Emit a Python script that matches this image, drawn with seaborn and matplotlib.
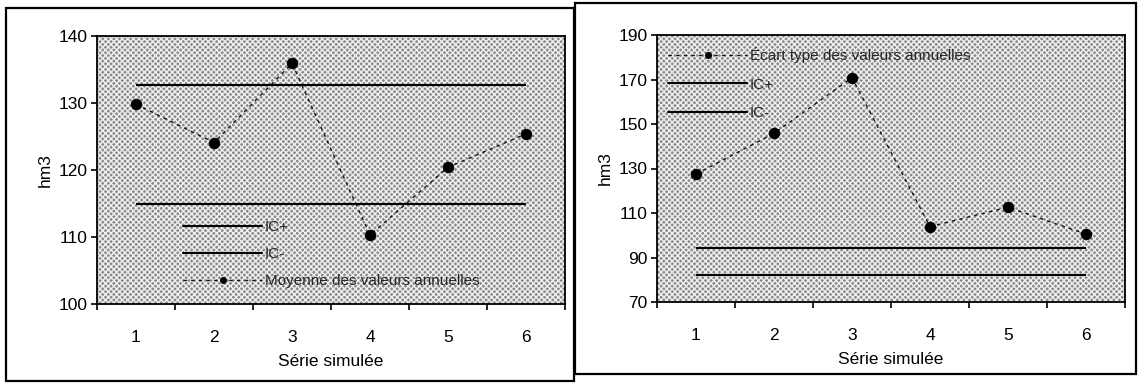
import matplotlib
matplotlib.use("Agg")
import matplotlib.pyplot as plt
import seaborn as sns
import pandas as pd
from matplotlib.patches import Rectangle
from matplotlib.lines import Line2D

# ---- data ----
series = [1, 2, 3, 4, 5, 6]
moyenne = [129.8, 124.1, 135.9, 110.3, 120.4, 125.4]
moy_ic_plus = 132.7
moy_ic_minus = 114.9

ecart = [127.5, 145.8, 170.8, 103.9, 112.6, 100.5]
ect_ic_plus = 94.1
ect_ic_minus = 82.0

xlabel = "Série simulée"
ylabel = "hm3"
lab_mean = "Moyenne des valeurs annuelles"
lab_std = "Écart type des valeurs annuelles"

sns.set_theme(style="white")
plt.rcParams["font.family"] = ["Liberation Sans", "DejaVu Sans"]

W, H = 1138, 385
fig = plt.figure(figsize=(W / 100, H / 100), dpi=100)


def px_axes(x0, y0, x1, y1):
    return fig.add_axes([x0 / W, 1 - y1 / H, (x1 - x0) / W, (y1 - y0) / H])


# outer boxes
for (x0, y0, x1, y1) in [(6, 8, 574, 381), (575, 3, 1136, 374)]:
    fig.patches.append(Rectangle((x0 / W, 1 - y1 / H), (x1 - x0) / W, (y1 - y0) / H,
                                 transform=fig.transFigure, fill=False,
                                 edgecolor="black", lw=1.6))

axL = px_axes(97, 36, 565, 304)
axR = px_axes(657, 35, 1125, 302)

TICK_FS = 12.5
LEG_FS = 11

line_style = dict(color="#111111", lw=1.0, linestyle=(0, (2.5, 3)),
                  marker="o", markersize=7.5, markeredgecolor="black",
                  markerfacecolor="black")


def style_axes(ax, ylim, yticks):
    ax.set_facecolor("#8a8a8a")
    ax.add_patch(Rectangle((0, 0), 1, 1, transform=ax.transAxes, facecolor="none",
                           edgecolor="#f0f0f0", hatch="xxxxxx", lw=0, zorder=0.5))
    ax.set_xlim(0.5, 6.5)
    ax.set_ylim(*ylim)
    ax.set_yticks(yticks)
    ax.set_xticks(series)
    ax.set_xticklabels([str(s) for s in series])
    ax.set_xticks([s - 0.5 for s in series] + [6.5], minor=True)
    ax.tick_params(axis="x", which="major", length=0, pad=19, labelsize=TICK_FS,
                   colors="black")
    ax.tick_params(axis="x", which="minor", length=4, width=1.2, direction="out",
                   bottom=True, color="black")
    ax.tick_params(axis="y", length=4, width=1.2, direction="out", left=True,
                   labelsize=TICK_FS, pad=3, colors="black")
    for s in ax.spines.values():
        s.set_visible(True)
        s.set_color("black")
        s.set_linewidth(1.3)
    ax.set_xlabel(xlabel, fontsize=TICK_FS, labelpad=6, color="black")
    ax.set_ylabel(ylabel, fontsize=TICK_FS, labelpad=4, color="black")
    ax.grid(False)


def series_handle():
    return Line2D([], [], color="#111111", lw=1.0, linestyle=(0, (2.5, 3)),
                  marker="o", markersize=4, markevery=[1], markerfacecolor="black",
                  markeredgecolor="black")


# ---- left panel ----
dfL = pd.DataFrame({"serie": series, "val": moyenne})
sns.lineplot(data=dfL, x="serie", y="val", ax=axL, zorder=3, **line_style)
axL.hlines(moy_ic_plus, series[0], series[-1], color="black", lw=1.5, zorder=2)
axL.hlines(moy_ic_minus, series[0], series[-1], color="black", lw=1.5, zorder=2)
style_axes(axL, (100, 140), [100, 110, 120, 130, 140])

hL = [Line2D([], [], color="black", lw=1.5),
      Line2D([], [], color="black", lw=1.5),
      series_handle()]
axL.legend(hL, ["IC+", "IC-", lab_mean], loc="upper left",
           bbox_to_anchor=((183 - 97) / 468, (304 - 220) / 268),
           frameon=False, fontsize=LEG_FS, handlelength=5.2, handletextpad=0.15,
           labelspacing=0.85, borderpad=0, borderaxespad=0)

# ---- right panel ----
dfR = pd.DataFrame({"serie": series, "val": ecart})
sns.lineplot(data=dfR, x="serie", y="val", ax=axR, zorder=3, **line_style)
axR.hlines(ect_ic_plus, series[0], series[-1], color="black", lw=1.5, zorder=2)
axR.hlines(ect_ic_minus, series[0], series[-1], color="black", lw=1.5, zorder=2)
style_axes(axR, (70, 190), [70, 90, 110, 130, 150, 170, 190])

hR = [series_handle(),
      Line2D([], [], color="black", lw=1.5),
      Line2D([], [], color="black", lw=1.5)]
axR.legend(hR, [lab_std, "IC+", "IC-"], loc="upper left",
           bbox_to_anchor=((668 - 657) / 468, (302 - 47) / 267),
           frameon=False, fontsize=LEG_FS, handlelength=5.2, handletextpad=0.15,
           labelspacing=0.95, borderpad=0, borderaxespad=0)

fig.savefig("out.png", dpi=100, facecolor="white")
